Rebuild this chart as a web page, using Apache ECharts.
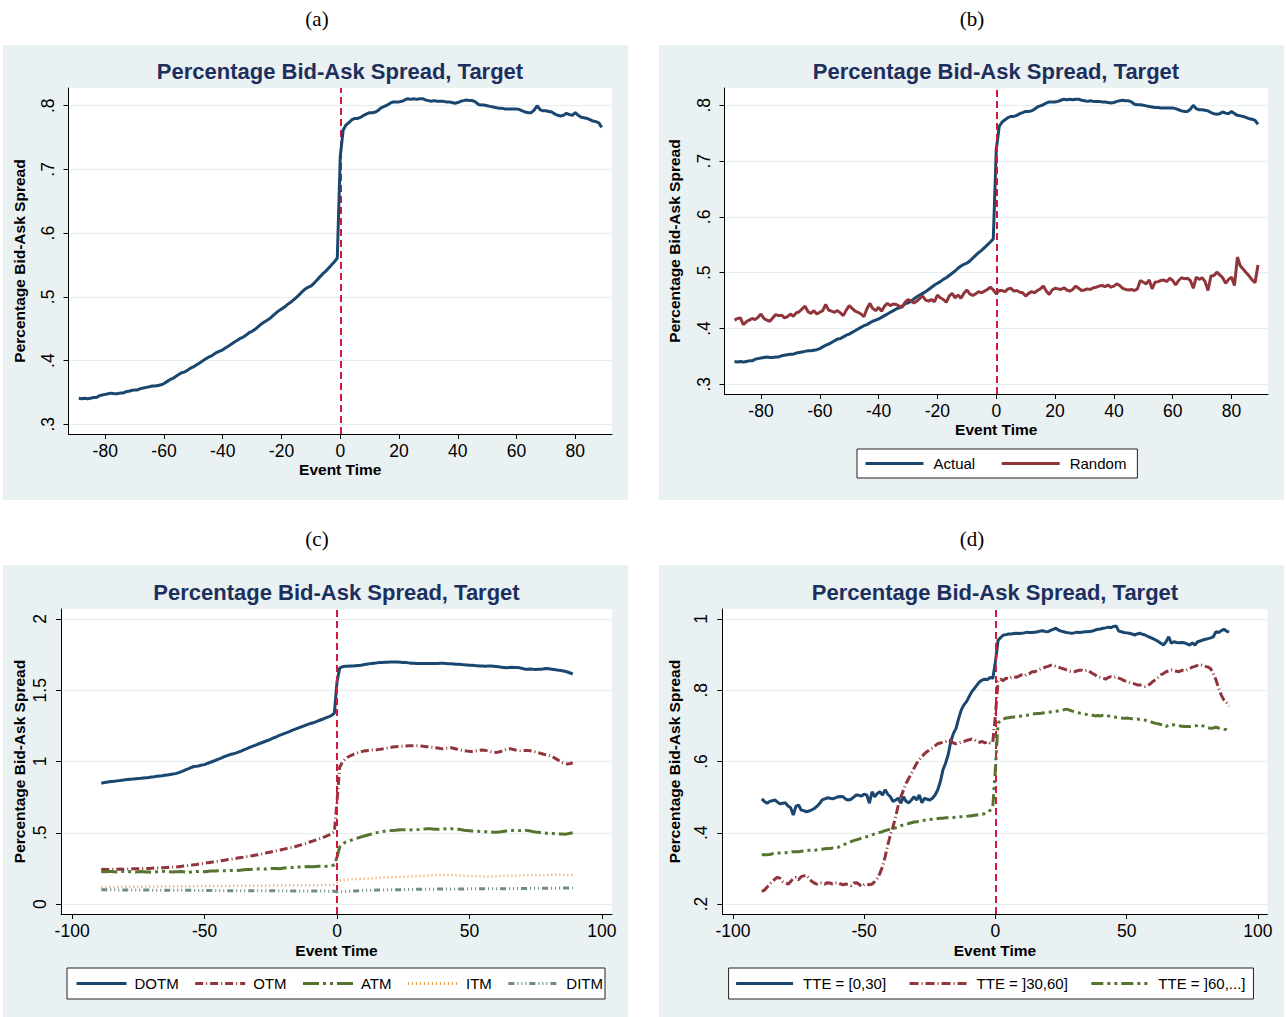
<!DOCTYPE html>
<html><head><meta charset="utf-8">
<script src="https://cdn.jsdelivr.net/npm/echarts@6/dist/echarts.min.js"></script>
<style>html,body{margin:0;padding:0;background:#fff}#c{width:1286px;height:1017px}</style>
</head><body><div id="c"></div>
<script>
// Event time index -89..89
const eventTime = [];
for (let t = -89; t <= 89; t++) eventTime.push(t);

const xTicks20 = [-80, -60, -40, -20, 0, 20, 40, 60, 80];
const xTicks50 = [-100, -50, 0, 50, 100];
const yTicksAB = [0.3, 0.4, 0.5, 0.6, 0.7, 0.8];
const yTicksC = [0, 0.5, 1, 1.5, 2];
const yTicksD = [0.2, 0.4, 0.6, 0.8, 1];

const actual = [
.341,.340,.341,.340,.341,.342,.342,.345,.346,.347,
.348,.349,.348,.348,.349,.349,.351,.352,.353,.354,
.354,.356,.357,.358,.359,.360,.360,.361,.362,.364,
.367,.370,.372,.375,.378,.381,.382,.385,.388,.390,
.393,.396,.399,.402,.405,.407,.410,.413,.415,.417,
.420,.423,.426,.429,.432,.435,.437,.440,.444,.446,
.449,.453,.457,.460,.463,.466,.470,.474,.478,.481,
.484,.488,.491,.495,.499,.503,.508,.512,.515,.517,
.521,.526,.531,.536,.540,.545,.550,.555,.561,.720,
.762,.770,.774,.778,.780,.780,.782,.785,.787,.789,
.789,.790,.793,.797,.799,.801,.804,.806,.806,.806,
.807,.809,.811,.810,.811,.810,.811,.811,.809,.808,
.807,.808,.807,.807,.807,.806,.806,.805,.804,.805,
.807,.808,.809,.808,.808,.806,.802,.801,.801,.800,
.799,.798,.797,.796,.796,.795,.795,.795,.795,.795,
.794,.792,.790,.789,.789,.793,.800,.794,.792,.792,
.791,.790,.787,.785,.784,.785,.788,.786,.785,.789,
.785,.782,.781,.780,.778,.776,.775,.773,.766];

const random = [
.415,.418,.419,.407,.412,.415,.418,.416,.420,.426,
.418,.415,.413,.419,.425,.423,.424,.419,.421,.426,
.422,.428,.430,.435,.440,.430,.427,.432,.426,.429,
.432,.443,.433,.431,.429,.432,.428,.423,.433,.441,
.436,.431,.429,.426,.421,.435,.445,.436,.432,.438,
.431,.440,.445,.441,.444,.443,.440,.438,.447,.452,
.449,.446,.449,.454,.458,.451,.449,.452,.448,.460,
.455,.452,.447,.458,.463,.455,.460,.454,.463,.469,
.462,.459,.462,.466,.464,.467,.470,.474,.469,.462,
.468,.468,.466,.471,.472,.467,.468,.465,.464,.458,
.463,.466,.464,.468,.471,.476,.467,.461,.469,.472,
.471,.470,.473,.469,.467,.470,.476,.472,.468,.469,
.471,.470,.473,.474,.476,.477,.475,.478,.474,.476,
.480,.477,.472,.470,.469,.470,.468,.471,.486,.483,
.480,.487,.471,.483,.484,.486,.487,.484,.490,.486,
.478,.486,.491,.489,.490,.486,.472,.492,.488,.491,
.484,.468,.494,.495,.501,.496,.491,.481,.488,.492,
.477,.528,.512,.506,.500,.494,.487,.482,.514];

const dotm = [
.847,.852,.855,.858,.860,.862,.864,.866,.869,.872,
.874,.876,.877,.879,.881,.882,.884,.886,.888,.891,
.893,.896,.898,.900,.903,.906,.909,.912,.915,.920,
.927,.934,.943,.950,.958,.965,.967,.970,.975,.978,
.986,.993,1.000,1.007,1.015,1.022,1.030,1.038,1.045,1.051,
1.055,1.061,1.068,1.075,1.083,1.091,1.099,1.106,1.113,1.121,
1.128,1.135,1.142,1.149,1.157,1.165,1.172,1.181,1.188,1.196,
1.203,1.210,1.218,1.225,1.233,1.240,1.247,1.254,1.260,1.267,
1.272,1.278,1.286,1.293,1.300,1.308,1.315,1.323,1.340,1.560,
1.655,1.665,1.668,1.669,1.670,1.670,1.672,1.674,1.676,1.679,
1.682,1.685,1.688,1.690,1.692,1.694,1.695,1.696,1.697,1.698,
1.699,1.699,1.698,1.697,1.695,1.694,1.692,1.690,1.689,1.688,
1.688,1.688,1.687,1.687,1.688,1.688,1.687,1.688,1.689,1.690,
1.688,1.686,1.685,1.684,1.683,1.682,1.680,1.678,1.677,1.676,
1.675,1.673,1.672,1.670,1.670,1.669,1.670,1.670,1.668,1.666,
1.664,1.662,1.660,1.658,1.660,1.662,1.660,1.659,1.657,1.653,
1.648,1.647,1.649,1.647,1.646,1.648,1.647,1.650,1.652,1.651,
1.648,1.645,1.642,1.640,1.637,1.633,1.628,1.621,1.614];

const otm = [
.243,.244,.243,.242,.243,.244,.244,.245,.244,.245,
.246,.246,.247,.247,.248,.248,.249,.249,.250,.251,
.252,.253,.254,.255,.256,.257,.258,.259,.260,.262,
.264,.266,.268,.271,.273,.276,.278,.281,.283,.286,
.289,.292,.295,.298,.300,.303,.306,.309,.312,.315,
.318,.321,.324,.327,.330,.333,.336,.339,.342,.345,
.349,.353,.357,.361,.365,.369,.373,.377,.381,.385,
.389,.394,.398,.402,.407,.413,.418,.424,.430,.437,
.443,.449,.456,.462,.469,.477,.485,.495,.507,.720,
.960,.995,1.015,1.030,1.040,1.048,1.055,1.062,1.068,1.073,
1.076,1.078,1.080,1.080,1.082,1.085,1.088,1.092,1.095,1.098,
1.101,1.104,1.106,1.107,1.108,1.109,1.110,1.110,1.111,1.111,
1.110,1.108,1.106,1.104,1.102,1.100,1.097,1.094,1.091,1.089,
1.092,1.095,1.097,1.093,1.088,1.083,1.079,1.076,1.073,1.071,
1.070,1.072,1.076,1.079,1.080,1.078,1.074,1.069,1.065,1.063,
1.066,1.072,1.080,1.086,1.090,1.087,1.082,1.078,1.076,1.077,
1.078,1.078,1.076,1.072,1.067,1.061,1.056,1.051,1.047,1.043,
1.036,1.026,1.015,1.003,.993,.987,.982,.986,.991];

const atm = [
.228,.226,.227,.229,.228,.226,.225,.227,.229,.230,
.228,.226,.225,.224,.226,.228,.227,.225,.224,.223,
.224,.226,.228,.229,.230,.228,.226,.225,.226,.227,
.228,.226,.224,.223,.225,.227,.228,.229,.228,.227,
.229,.231,.232,.231,.233,.235,.234,.233,.234,.236,
.238,.237,.236,.238,.240,.242,.243,.244,.245,.246,
.247,.246,.245,.247,.249,.250,.249,.248,.250,.252,
.254,.255,.256,.258,.259,.260,.261,.262,.263,.262,
.261,.263,.265,.264,.263,.265,.268,.270,.274,.330,
.400,.420,.432,.440,.446,.452,.458,.464,.470,.476,
.481,.486,.491,.496,.501,.505,.508,.511,.513,.515,
.516,.517,.519,.521,.522,.522,.521,.520,.521,.522,
.523,.525,.527,.528,.529,.527,.525,.524,.525,.526,
.528,.530,.529,.527,.526,.524,.521,.518,.516,.514,
.512,.511,.510,.509,.508,.507,.506,.505,.504,.504,
.505,.507,.510,.513,.515,.516,.517,.516,.515,.516,
.517,.515,.512,.508,.505,.503,.500,.498,.497,.496,
.495,.494,.493,.492,.491,.490,.493,.497,.500];

const itm = [
.118,.118,.119,.119,.119,.120,.120,.120,.121,.121,
.121,.121,.122,.122,.122,.122,.122,.123,.123,.123,
.123,.123,.123,.124,.124,.124,.124,.124,.124,.125,
.125,.125,.125,.125,.125,.125,.126,.126,.126,.126,
.126,.126,.126,.127,.127,.127,.127,.127,.127,.127,
.128,.128,.128,.128,.128,.128,.128,.129,.129,.129,
.129,.129,.129,.129,.130,.130,.130,.130,.130,.130,
.130,.131,.131,.131,.131,.131,.131,.132,.132,.132,
.132,.132,.132,.133,.133,.133,.134,.134,.135,.150,
.165,.168,.170,.172,.173,.174,.175,.176,.177,.178,
.179,.180,.181,.182,.183,.184,.185,.186,.187,.188,
.188,.189,.190,.191,.192,.193,.193,.194,.195,.196,
.197,.198,.199,.200,.201,.202,.203,.203,.202,.202,
.203,.204,.204,.203,.202,.201,.200,.199,.198,.197,
.196,.195,.194,.194,.193,.193,.192,.193,.194,.195,
.196,.197,.198,.199,.200,.200,.199,.199,.200,.201,
.202,.202,.203,.203,.202,.201,.200,.201,.202,.204,
.205,.206,.207,.206,.205,.204,.203,.203,.203];

const ditm = [
.101,.101,.100,.100,.100,.100,.099,.099,.099,.099,
.099,.099,.098,.098,.098,.098,.098,.098,.098,.097,
.097,.097,.097,.097,.097,.097,.097,.096,.096,.096,
.096,.096,.096,.096,.096,.095,.095,.095,.095,.095,
.095,.095,.095,.095,.095,.094,.094,.094,.094,.094,
.094,.094,.094,.094,.094,.094,.093,.093,.093,.093,
.093,.093,.093,.093,.093,.093,.093,.093,.093,.092,
.092,.092,.092,.092,.092,.092,.092,.092,.092,.092,
.092,.092,.091,.091,.091,.091,.090,.090,.090,.086,
.086,.087,.088,.089,.090,.091,.092,.093,.094,.095,
.096,.096,.097,.097,.098,.098,.099,.099,.100,.100,
.100,.101,.101,.101,.102,.102,.102,.102,.103,.103,
.103,.103,.104,.104,.104,.104,.104,.105,.105,.105,
.105,.105,.105,.106,.106,.106,.106,.106,.106,.106,
.107,.107,.107,.107,.107,.107,.107,.108,.108,.108,
.108,.108,.108,.108,.108,.109,.109,.109,.109,.109,
.109,.109,.110,.110,.110,.110,.110,.110,.111,.111,
.111,.111,.111,.112,.112,.112,.112,.113,.113];

const tte1 = [
.495,.488,.483,.488,.490,.492,.486,.481,.483,.484,
.475,.470,.450,.474,.478,.464,.462,.459,.461,.464,
.468,.474,.482,.492,.495,.498,.497,.495,.498,.501,
.502,.501,.494,.492,.494,.500,.506,.505,.503,.508,
.506,.483,.515,.501,.510,.515,.506,.521,.508,.501,
.488,.492,.497,.483,.501,.488,.484,.492,.501,.492,
.506,.484,.497,.494,.492,.497,.506,.520,.543,.576,
.595,.619,.656,.679,.693,.721,.745,.759,.768,.782,
.796,.805,.815,.824,.829,.831,.830,.836,.833,.880,
.940,.948,.955,.956,.958,.958,.959,.960,.959,.960,
.961,.963,.962,.962,.963,.964,.966,.967,.965,.964,
.968,.971,.974,.969,.966,.964,.962,.961,.960,.961,
.963,.962,.963,.964,.964,.965,.966,.969,.971,.972,
.974,.975,.977,.976,.979,.980,.966,.964,.962,.961,
.960,.958,.955,.958,.960,.957,.955,.951,.948,.945,
.941,.937,.932,.927,.936,.950,.932,.936,.934,.933,
.934,.933,.930,.927,.933,.927,.936,.938,.941,.943,
.945,.947,.950,.964,.962,.967,.971,.966,.963];

const tte2 = [
.235,.239,.247,.256,.263,.270,.275,.272,.263,.259,
.256,.263,.272,.275,.268,.277,.279,.281,.272,.264,
.259,.256,.260,.259,.256,.260,.259,.256,.259,.260,
.256,.254,.256,.254,.251,.259,.260,.256,.249,.254,
.256,.254,.256,.263,.272,.286,.305,.333,.366,.394,
.417,.445,.478,.501,.520,.539,.553,.567,.581,.595,
.605,.614,.622,.628,.633,.638,.644,.650,.652,.654,
.656,.661,.659,.652,.650,.652,.654,.656,.659,.661,
.663,.661,.656,.654,.656,.652,.656,.652,.654,.730,
.825,.831,.827,.834,.831,.836,.838,.836,.840,.843,
.840,.845,.847,.852,.852,.856,.859,.861,.865,.867,
.870,.870,.867,.865,.862,.860,.857,.854,.852,.852,
.854,.856,.856,.854,.856,.852,.847,.843,.838,.836,
.834,.831,.836,.838,.836,.838,.834,.831,.827,.825,
.822,.820,.818,.815,.815,.813,.811,.813,.818,.825,
.829,.836,.843,.847,.852,.854,.857,.856,.853,.852,
.856,.854,.857,.860,.865,.867,.870,.872,.870,.867,
.865,.860,.847,.829,.806,.787,.773,.766,.756];

const tte3 = [
.338,.338,.338,.339,.341,.342,.343,.343,.343,.344,
.345,.346,.347,.347,.347,.348,.349,.350,.351,.351,
.351,.352,.353,.354,.355,.356,.356,.357,.357,.359,
.362,.366,.369,.372,.375,.378,.380,.382,.385,.387,
.389,.391,.394,.397,.399,.401,.403,.406,.408,.410,
.412,.414,.417,.420,.422,.425,.426,.428,.430,.431,
.432,.434,.435,.436,.437,.438,.439,.440,.441,.441,
.442,.442,.443,.443,.444,.445,.445,.445,.446,.447,
.448,.449,.450,.451,.452,.454,.458,.463,.472,.580,
.708,.715,.719,.722,.723,.724,.725,.726,.727,.728,
.729,.730,.731,.733,.734,.735,.735,.736,.737,.738,
.739,.740,.741,.742,.743,.745,.747,.745,.742,.740,
.738,.736,.735,.733,.732,.731,.730,.728,.729,.728,
.730,.731,.728,.726,.725,.724,.723,.722,.721,.722,
.721,.720,.719,.719,.718,.717,.716,.714,.712,.709,
.707,.706,.704,.703,.698,.703,.702,.703,.701,.700,
.699,.698,.698,.698,.699,.700,.701,.703,.700,.698,
.695,.693,.694,.696,.694,.693,.691,.689,.684];

const FONT = '"Liberation Sans", Arial, Helvetica, sans-serif';
const SERIF = '"Liberation Serif", "DejaVu Serif", serif';
const NAVY = '#1a476f', MAROON = '#90353b', GREEN = '#55752f', ORANGE = '#eb9b45', TEAL = '#6e8e84';
const TITLE_C = '#1c2f5d';

const pairs = vals => vals.map((v, i) => [eventTime[i], v]);
const fmtY = v => String(Math.round(v * 10) / 10).replace(/^0\./, '.');

function xAxisCfg(gi, min, max, ticks, gap) {
  return {
    type: 'value', gridIndex: gi, min, max,
    name: 'Event Time', nameLocation: 'middle', nameGap: gap,
    nameTextStyle: {fontFamily: FONT, fontWeight: 'bold', fontSize: 15.5, color: '#000'},
    axisLine: {show: true, onZero: false, lineStyle: {color: '#000', width: 1}},
    axisTick: {show: true, length: 5, lineStyle: {color: '#000'}, customValues: ticks},
    axisLabel: {fontFamily: FONT, fontSize: 17.5, color: '#000', margin: 8, customValues: ticks},
    splitLine: {show: false}
  };
}
function yAxisCfg(gi, min, max, ticks, gap) {
  return {
    type: 'value', gridIndex: gi, min, max,
    name: 'Percentage Bid-Ask Spread', nameLocation: 'middle', nameGap: gap, nameRotate: 90,
    nameTextStyle: {fontFamily: FONT, fontWeight: 'bold', fontSize: 15.5, color: '#000'},
    axisLine: {show: true, onZero: false, lineStyle: {color: '#000', width: 1}},
    axisTick: {show: true, length: 5, lineStyle: {color: '#000'}, customValues: ticks},
    axisLabel: {fontFamily: FONT, fontSize: 17.5, color: '#000', margin: 12, rotate: 90,
      customValues: ticks, formatter: fmtY},
    splitLine: {show: true, lineStyle: {color: '#e6eef1', width: 1.2}}
  };
}
function line(name, vals, gi, color, type, width, z) {
  return {
    type: 'line', name, xAxisIndex: gi, yAxisIndex: gi, data: pairs(vals),
    symbol: 'none', showSymbol: false, animation: false, silent: true, z: z || 2,
    lineStyle: {color, width: width || 3, type: type || 'solid'},
    itemStyle: {color}
  };
}
const eventLine = {
  silent: true, symbol: ['none', 'none'], label: {show: false}, animation: false,
  lineStyle: {color: '#d4183d', width: 2, type: [7, 4]},
  data: [{xAxis: 0}]
};
function withMark(s) { s.markLine = eventLine; s.z = 5; return s; }

const legendBase = {
  orient: 'horizontal', itemHeight: 14, backgroundColor: '#fff',
  borderColor: '#222', borderWidth: 1, borderRadius: 0, selectedMode: false,
  itemStyle: {opacity: 0}, lineStyle: {width: 3},
  textStyle: {fontFamily: FONT, fontSize: 15, color: '#000'}
};

const grids = [
  {left: 68.5, top: 88, width: 543.5, height: 346},
  {left: 724.5, top: 88, width: 543.5, height: 306},
  {left: 61, top: 609, width: 551, height: 305},
  {left: 722.4, top: 609, width: 545, height: 305}
].map(g => Object.assign(g, {show: true, backgroundColor: '#fff', borderWidth: 0, containLabel: false}));

function titleText(x, y) {
  return {type: 'text', x, y, z: 10, style: {text: 'Percentage Bid-Ask Spread, Target',
    font: 'bold 22px ' + FONT, fill: TITLE_C, align: 'center', verticalAlign: 'middle'}};
}
function panelLabel(txt, x, y) {
  return {type: 'text', x, y, z: 10, style: {text: txt, font: '21px ' + SERIF, fill: '#000',
    align: 'center', verticalAlign: 'middle'}};
}
function bg(x, y, w, h) {
  return {type: 'rect', z: -10, shape: {x, y, width: w, height: h}, style: {fill: '#eaf1f3'}};
}

const chart = echarts.init(document.getElementById('c'), null, {renderer: 'svg', width: 1286, height: 1017});
chart.setOption({
  backgroundColor: '#fff',
  animation: false,
  graphic: [
    bg(3, 45, 625, 455), bg(659, 45, 625, 455), bg(3, 565, 625, 452), bg(659, 565, 625, 452),
    panelLabel('(a)', 317, 19), panelLabel('(b)', 972, 19), panelLabel('(c)', 317, 539), panelLabel('(d)', 972, 539),
    titleText(340, 71), titleText(996, 71), titleText(336.5, 592), titleText(995, 592)
  ],
  grid: grids,
  xAxis: [
    xAxisCfg(0, -92.5, 92.5, xTicks20, 27),
    xAxisCfg(1, -92.4, 92.4, xTicks20, 27),
    xAxisCfg(2, -104.2, 103.8, xTicks50, 28),
    xAxisCfg(3, -104, 103.6, xTicks50, 28)
  ],
  yAxis: [
    yAxisCfg(0, 0.2848, 0.8278, yTicksAB, 41),
    yAxisCfg(1, 0.2826, 0.831, yTicksAB, 42),
    yAxisCfg(2, -0.07, 2.07, yTicksC, 34),
    yAxisCfg(3, 0.172, 1.028, yTicksD, 40)
  ],
  legend: [
    Object.assign({}, legendBase, {data: ['Actual', 'Random'], left: 857, top: 449,
      itemWidth: 58, itemGap: 25, padding: [7, 11, 7, 7],
      textStyle: Object.assign({}, legendBase.textStyle, {padding: [0, 0, 0, 5]})}),
    Object.assign({}, legendBase, {data: ['DOTM', 'OTM', 'ATM', 'ITM', 'DITM'], left: 67, top: 968,
      itemWidth: 50, itemGap: 15, padding: [8, 2, 8, 8],
      textStyle: Object.assign({}, legendBase.textStyle, {padding: [0, 0, 0, 3]})}),
    Object.assign({}, legendBase, {data: ['TTE = [0,30]', 'TTE = ]30,60]', 'TTE = ]60,...]'], left: 728.6, top: 968,
      itemWidth: 57, itemGap: 22, padding: [8, 8, 8, 6],
      textStyle: Object.assign({}, legendBase.textStyle, {padding: [0, 0, 0, 5]})})
  ],
  series: [
    withMark(line('Actual (a)', actual, 0, NAVY)),
    line('Actual', actual, 1, NAVY),
    withMark(line('Random', random, 1, MAROON)),
    line('DOTM', dotm, 2, NAVY),
    line('OTM', otm, 2, MAROON, [8, 3, 1, 3]),
    line('ATM', atm, 2, GREEN, [16, 4, 3, 4, 3, 4]),
    line('ITM', itm, 2, ORANGE, [1, 3], 2.5),
    withMark(line('DITM', ditm, 2, TEAL, [6, 3, 1, 3, 1, 3, 1, 3])),
    line('TTE = [0,30]', tte1, 3, NAVY),
    line('TTE = ]30,60]', tte2, 3, MAROON, [9, 3, 1, 3]),
    withMark(line('TTE = ]60,...]', tte3, 3, GREEN, [12, 4, 3, 4, 3, 4]))
  ]
});
</script>
</body></html>
